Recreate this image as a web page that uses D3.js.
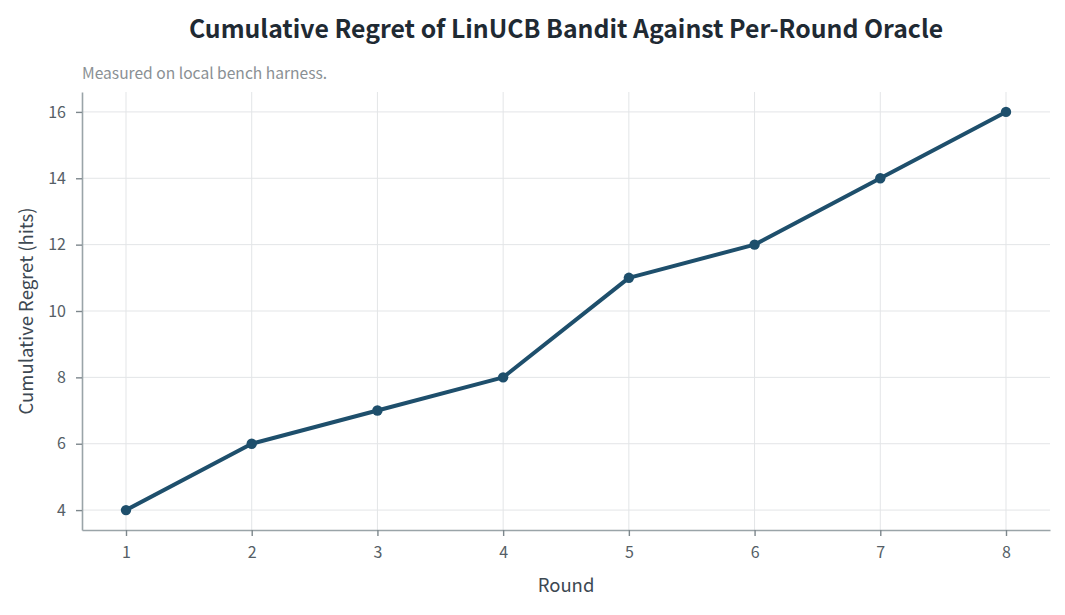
<!DOCTYPE html>
<html><head><meta charset="utf-8">
<script src="https://cdn.jsdelivr.net/npm/d3@7"></script>
<style>
body{margin:0;background:#fff;}
text{font-family:"Noto Sans CJK KR","Noto Sans",sans-serif;}
</style></head>
<body><svg id="c" width="1065" height="615"></svg>
<script>
const rounds = [1,2,3,4,5,6,7,8];
const regret = [4,6,7,8,11,12,14,16];
const yTicks = [4,6,8,10,12,14,16];
const title = "Cumulative Regret of LinUCB Bandit Against Per-Round Oracle";
const subtitle = "Measured on local bench harness.";

const svg = d3.select("#c");
const m = {l:82, r:1050, t:92, b:530};
const x = d3.scaleLinear().domain([0.65, 8.35]).range([m.l, m.r]);
const y = d3.scaleLinear().domain([3.4, 16.6]).range([m.b, m.t]);

// grid
svg.append("g").selectAll("line").data(yTicks).join("line")
  .attr("x1", m.l).attr("x2", m.r).attr("y1", d=>y(d)).attr("y2", d=>y(d))
  .attr("stroke","#e3e5e7").attr("stroke-width",1);
svg.append("g").selectAll("line").data(rounds).join("line")
  .attr("y1", m.t).attr("y2", m.b).attr("x1", d=>x(d)).attr("x2", d=>x(d))
  .attr("stroke","#e3e5e7").attr("stroke-width",1);

// axes
const xa = svg.append("g").attr("transform",`translate(0,${m.b})`)
  .call(d3.axisBottom(x).tickValues(rounds).tickFormat(d3.format("d")).tickSize(6).tickSizeOuter(0).tickPadding(11));
const ya = svg.append("g").attr("transform",`translate(${m.l},0)`)
  .call(d3.axisLeft(y).tickValues(yTicks).tickSize(6).tickSizeOuter(0).tickPadding(10));
[xa,ya].forEach(a=>{
  a.select(".domain").attr("stroke","#9aa4a8").attr("stroke-width",1.6);
  a.selectAll(".tick line").attr("stroke","#7d878c").attr("stroke-width",1.4);
  a.selectAll(".tick text").attr("fill","#555e66").attr("font-size",16)
   .style("font-family",'"Noto Sans CJK KR","Noto Sans",sans-serif');
});

// line
svg.append("path").datum(rounds.map((r,i)=>[r,regret[i]]))
  .attr("d", d3.line().x(d=>x(d[0])).y(d=>y(d[1])))
  .attr("fill","none").attr("stroke","#1e4f6c").attr("stroke-width",4)
  .attr("stroke-linejoin","round").attr("stroke-linecap","round");
svg.append("g").selectAll("circle").data(rounds).join("circle")
  .attr("cx", d=>x(d)).attr("cy",(d,i)=>y(regret[i])).attr("r",5.2)
  .attr("fill","#1e4f6c");

// text
svg.append("text").attr("x",566).attr("y",38).attr("text-anchor","middle")
  .attr("font-size",24.8).attr("font-weight","bold").attr("fill","#1f2a33").text(title);
svg.append("text").attr("x",82).attr("y",79)
  .attr("font-size",15.6).attr("fill","#8a9094").text(subtitle);
svg.append("text").attr("x",566).attr("y",592).attr("text-anchor","middle")
  .attr("font-size",18.5).attr("fill","#3d4852").text("Round");
svg.append("text").attr("transform","translate(33,311) rotate(-90)").attr("text-anchor","middle")
  .attr("font-size",18.5).attr("fill","#3d4852").text("Cumulative Regret (hits)");
</script></body></html>
